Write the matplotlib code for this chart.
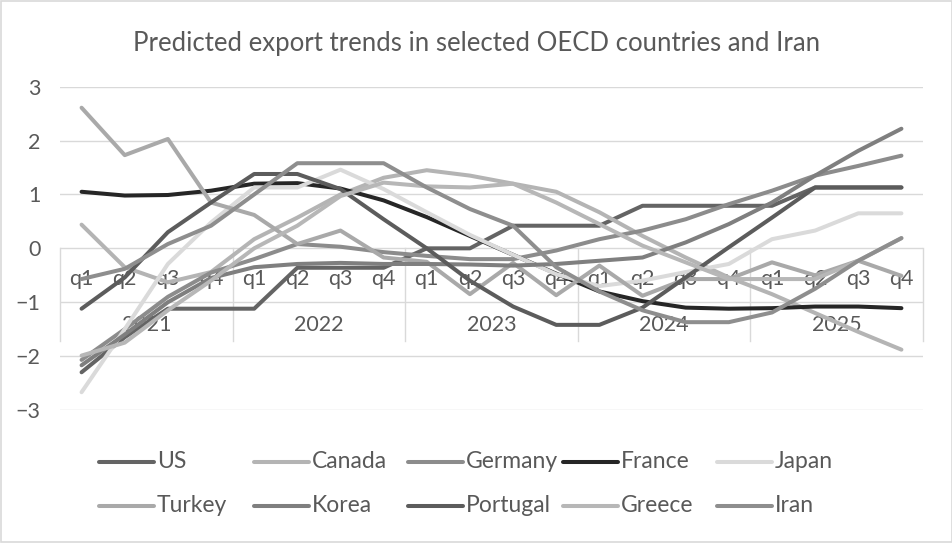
import matplotlib
matplotlib.use("Agg")
import matplotlib.pyplot as plt
from matplotlib.lines import Line2D
from matplotlib.patches import Rectangle

# ---- data (20 quarters, 2021q1 .. 2025q4)
quarters = ["q1", "q2", "q3", "q4"]
years = ["2021", "2022", "2023", "2024", "2025"]
countries = ["US", "Canada", "Germany", "France", "Japan",
             "Turkey", "Korea", "Portugal", "Greece", "Iran"]

us = [-2.30, -1.65, -1.12, -1.12, -1.12, -0.36, -0.36, -0.36, 0.0, 0.0,
      0.42, 0.42, 0.42, 0.79, 0.79, 0.79, 0.79, 1.13, 1.13, 1.13]
canada = [0.44, -0.35, -0.63, -0.44, 0.17, 0.57, 1.0, 1.31, 1.45, 1.35,
          1.2, 1.05, 0.67, 0.23, -0.17, -0.54, -0.85, -1.2, -1.55, -1.88]
germany = [-2.07, -1.5, -0.9, -0.45, -0.2, 0.08, 0.03, -0.07, -0.14, -0.2,
           -0.2, -0.04, 0.17, 0.33, 0.54, 0.82, 1.07, 1.35, 1.53, 1.72]
france = [1.05, 0.98, 0.99, 1.07, 1.2, 1.21, 1.11, 0.89, 0.58, 0.23,
          -0.12, -0.47, -0.8, -0.98, -1.1, -1.12, -1.11, -1.08, -1.08, -1.11]
japan = [-2.67, -1.5, -0.29, 0.48, 1.13, 1.13, 1.46, 1.1, 0.67, 0.25,
         -0.12, -0.48, -0.7, -0.6, -0.44, -0.29, 0.17, 0.33, 0.65, 0.65]
turkey = [2.61, 1.73, 2.03, 0.85, 0.62, 0.08, 0.33, -0.17, -0.25, -0.85,
          -0.27, -0.87, -0.32, -0.88, -0.57, -0.57, -0.26, -0.5, -0.23, -0.51]
korea = [-2.17, -1.6, -1.0, -0.55, -0.35, -0.29, -0.27, -0.29, -0.29, -0.3,
         -0.32, -0.29, -0.23, -0.17, 0.11, 0.45, 0.85, 1.35, 1.81, 2.22]
portugal = [-1.12, -0.54, 0.3, 0.85, 1.38, 1.38, 1.1, 0.54, 0.0, -0.6,
            -1.08, -1.42, -1.42, -1.1, -0.54, 0.02, 0.57, 1.13, 1.13, 1.13]
greece = [-1.99, -1.75, -1.15, -0.6, 0.0, 0.42, 0.97, 1.22, 1.15, 1.13,
          1.2, 0.85, 0.45, 0.05, -0.26, -0.57, -0.57, -0.57, -0.23, 0.19]
iran = [-0.57, -0.38, 0.08, 0.42, 1.0, 1.58, 1.58, 1.58, 1.13, 0.73,
        0.42, -0.35, -0.8, -1.15, -1.37, -1.37, -1.19, -0.75, -0.23, 0.19]

series = [us, canada, germany, france, japan, turkey, korea, portugal, greece, iran]
colors = ["#646464", "#B4B4B4", "#8C8C8C", "#262626", "#DADADA",
          "#A9A9A9", "#7F7F7F", "#5C5C5C", "#B7B7B7", "#8E8E8E"]

txt = "#595959"
grid = "#D9D9D9"
W, H = 953, 543

plt.rcParams["font.family"] = ["Lato", "DejaVu Sans"]
fig = plt.figure(figsize=(W / 100, H / 100), dpi=100)
ax = fig.add_axes([60 / W, 1 - 410 / H, 863 / W, (410 - 86.7) / H])

x = list(range(len(us)))
for vals, c in zip(series, colors):
    ax.plot(x, vals, color=c, lw=2.9, solid_capstyle="round",
            solid_joinstyle="round", zorder=3)

ax.set_xlim(-0.5, len(x) - 0.5)
ax.set_ylim(-3, 3)
ax.set_yticks(range(-3, 4))
ax.set_xticks([])
ax.grid(axis="y", color=grid, lw=1, zorder=0)
for s in ax.spines.values():
    s.set_visible(False)
ax.tick_params(axis="y", length=0, pad=14, labelsize=15.5, labelcolor=txt)

# ---- multi-level category axis sitting on the zero line
for i in x:
    ax.text(i, -0.57, quarters[i % 4], ha="center", va="center",
            fontsize=15.5, color=txt, zorder=1)
for k, yr in enumerate(years):
    ax.text(4 * k + 1.5, -1.43, yr, ha="center", va="center",
            fontsize=15.5, color=txt, zorder=1)
for k in range(len(years) + 1):
    ax.plot([4 * k - 0.5] * 2, [0, -1.72], color=grid, lw=1, zorder=1,
            clip_on=False)

fig.text(0.5, 1 - 43 / H, "Predicted export trends in selected OECD countries and Iran",
         ha="center", va="center", fontsize=18.5, color=txt)

# ---- legend, 2 rows x 5 equal columns like Excel
for n, (name, c) in enumerate(zip(countries, colors)):
    row, col = divmod(n, 5)
    x0 = 99 + 154.5 * col
    yy = 1 - (462 + 44 * row) / H
    fig.add_artist(Line2D([x0 / W, (x0 + 55) / W], [yy, yy], color=c, lw=2.9,
                          solid_capstyle="round"))
    fig.text((x0 + 58) / W, yy, name, ha="left", va="center",
             fontsize=16.5, color=txt)

fig.add_artist(Rectangle((0.001, 0.001), 0.998, 0.998, transform=fig.transFigure,
                         fill=False, edgecolor=grid, lw=1.2))

fig.savefig("out.png", dpi=100)
